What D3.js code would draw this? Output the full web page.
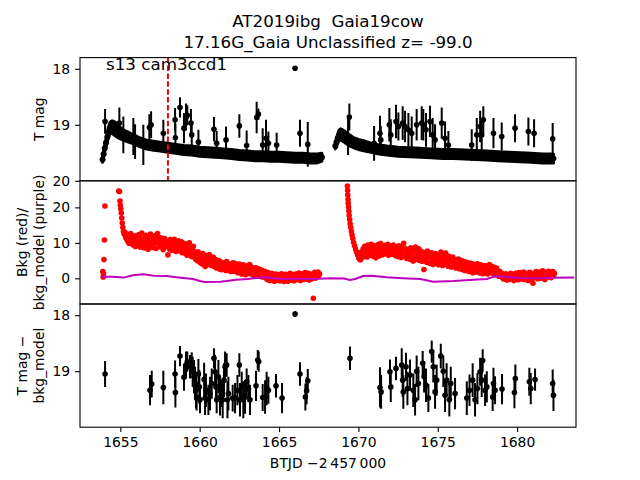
<!DOCTYPE html>
<html><head><meta charset="utf-8">
<script src="https://cdn.jsdelivr.net/npm/d3@7"></script>
<style>body{margin:0;background:#fff}text{font-family:"DejaVu Sans",sans-serif;white-space:pre}</style>
</head><body><div id="chart"></div>
<script>
// ---------- DATA ----------
const titleLines = ["AT2019ibg  Gaia19cow", "17.16G_Gaia Unclassified z= -99.0"];
const sectorLabel = "s13 cam3ccd1";
const xTicks = [1655, 1660, 1665, 1670, 1675, 1680];
const magTicks = [18, 19, 20];
const bkgTicks = [0, 10, 20];
const markerLine = 1658.0;

// main light-curve band: [BTJD, mag, err]
const band1 = [[1653.88,19.62,0.05],[1653.95,19.52,0.05],[1654.02,19.42,0.06],[1654.10,19.32,0.07],[1654.18,19.22,0.08],[1654.26,19.13,0.09],[1654.35,19.06,0.10],[1654.45,19.04,0.11],[1654.55,19.05,0.12],[1654.70,19.08,0.12],[1654.85,19.12,0.11],[1655.00,19.15,0.10],[1655.25,19.19,0.09],[1655.50,19.22,0.09],[1655.75,19.25,0.08],[1656.00,19.28,0.08],[1656.30,19.32,0.08],[1656.60,19.35,0.08],[1657.00,19.37,0.08],[1657.50,19.39,0.08],[1658.00,19.41,0.08],[1658.50,19.43,0.08],[1659.00,19.45,0.08],[1659.50,19.46,0.08],[1660.00,19.48,0.08],[1660.50,19.49,0.08],[1661.00,19.50,0.08],[1661.50,19.51,0.08],[1662.00,19.52,0.08],[1662.50,19.54,0.08],[1663.00,19.55,0.08],[1663.50,19.56,0.08],[1664.00,19.56,0.08],[1664.50,19.57,0.08],[1665.00,19.57,0.08],[1665.50,19.58,0.08],[1666.00,19.59,0.08],[1666.50,19.59,0.08],[1667.00,19.60,0.08],[1667.40,19.60,0.08],[1667.70,19.58,0.07]];
const band2 = [[1668.55,19.38,0.05],[1668.62,19.31,0.06],[1668.70,19.24,0.08],[1668.78,19.19,0.09],[1668.88,19.17,0.10],[1669.00,19.19,0.10],[1669.20,19.23,0.10],[1669.40,19.27,0.10],[1669.70,19.32,0.09],[1670.00,19.35,0.09],[1670.40,19.38,0.09],[1670.80,19.41,0.08],[1671.30,19.44,0.08],[1671.80,19.46,0.08],[1672.50,19.48,0.08],[1673.20,19.49,0.08],[1673.90,19.50,0.08],[1674.60,19.51,0.08],[1675.30,19.52,0.08],[1676.00,19.52,0.08],[1676.70,19.53,0.08],[1677.40,19.54,0.08],[1678.10,19.55,0.08],[1678.80,19.56,0.08],[1679.50,19.57,0.08],[1680.20,19.58,0.08],[1680.90,19.59,0.08],[1681.60,19.60,0.08],[1682.29,19.60,0.08]];

// sparse detections in top panel: [BTJD, mag, err]
const topPts = [[1654.04,18.94,0.22],[1654.94,18.97,0.28],[1655.19,19.18,0.33],[1655.82,19.21,0.33],[1655.93,19.30,0.31],[1656.45,19.36,0.36],[1656.83,19.05,0.24],[1656.94,19.00,0.24],[1657.71,19.15,0.24],[1658.45,18.91,0.21],[1658.47,19.23,0.25],[1658.76,18.69,0.18],[1659.01,19.06,0.27],[1659.14,18.86,0.24],[1659.22,18.83,0.18],[1659.45,18.97,0.25],[1659.50,19.18,0.24],[1659.92,19.31,0.22],[1660.90,19.08,0.22],[1661.07,19.33,0.22],[1661.66,19.27,0.24],[1662.50,19.02,0.21],[1662.96,19.37,0.27],[1663.59,18.87,0.28],[1663.70,18.81,0.10],[1663.97,19.36,0.30],[1664.18,19.24,0.33],[1664.33,19.33,0.21],[1664.85,19.36,0.22],[1666.01,17.99,0.04],[1666.32,19.15,0.24],[1666.81,19.35,0.40],
[1669.35,19.21,0.33],[1669.43,18.86,0.24],[1670.99,19.33,0.31],[1671.36,19.15,0.31],[1671.41,19.27,0.25],[1671.95,19.00,0.30],[1672.04,19.18,0.28],[1672.37,18.94,0.30],[1672.52,19.03,0.25],[1672.79,18.97,0.30],[1672.94,19.03,0.28],[1673.15,19.09,0.30],[1673.36,19.15,0.30],[1673.67,19.00,0.28],[1673.99,18.97,0.30],[1674.09,19.00,0.28],[1674.26,19.09,0.30],[1674.51,18.94,0.28],[1674.68,19.18,0.30],[1674.83,19.27,0.28],[1675.25,18.97,0.28],[1675.46,19.24,0.30],[1675.67,19.36,0.25],[1677.14,19.36,0.28],[1677.46,19.18,0.30],[1677.67,19.03,0.28],[1677.77,19.18,0.30],[1677.87,18.91,0.24],[1678.51,19.15,0.27],[1679.03,19.21,0.25],[1679.87,19.06,0.25],[1680.71,19.12,0.25],[1681.07,19.15,0.25],[1682.24,19.25,0.28]];

// background (red): [BTJD, counts]
const bkg = [[1653.90,1.9],[1653.92,0.4],[1653.94,1.3],[1653.97,5.3],[1654.00,10.8],[1654.03,20.4],[1654.90,24.6],[1654.95,24.5],[1654.98,21.8],[1655.00,20.6],[1655.03,19.6],[1655.06,18.4],[1655.09,17.0],[1655.12,15.6],[1655.16,14.3],[1655.20,13.2],[1655.25,12.4],[1655.30,13.0],[1655.35,11.4],[1655.40,12.2],[1655.45,10.6],[1655.50,11.8],[1655.55,9.9],[1655.60,11.1],[1655.65,12.6],[1655.70,10.3],[1655.75,11.5],[1655.80,9.4],[1655.85,10.8],[1655.90,12.0],[1655.95,9.0],[1656.00,10.5],[1656.05,11.6],[1656.10,9.6],[1656.15,12.3],[1656.20,10.0],[1656.25,8.8],[1656.30,11.2],[1656.35,12.8],[1656.40,9.8],[1656.45,11.0],[1656.50,8.6],[1656.55,10.4],[1656.60,12.1],[1656.65,9.2],[1656.70,10.9],[1656.75,8.2],[1656.80,11.7],[1656.85,9.7],[1656.90,12.5],[1656.95,10.2],[1657.00,8.7],[1657.05,11.3],[1657.10,9.5],[1657.15,12.0],[1657.20,10.6],[1657.25,8.4],[1657.30,11.8],[1657.35,12.6],[1657.40,9.9],[1657.45,10.8],[1657.50,8.9],[1657.55,11.4],[1657.60,9.3],[1657.65,10.5],[1657.70,8.1],[1657.75,10.0],[1657.80,11.2],[1657.85,9.0],[1657.90,10.4],[1658.00,6.6],[1658.05,9.6],[1658.10,8.3],[1658.15,10.9],[1658.20,9.1],[1658.25,7.9],[1658.30,10.2],[1658.35,8.6],[1658.40,11.0],[1658.45,9.4],[1658.50,7.6],[1658.55,10.0],[1658.60,8.8],[1658.65,10.6],[1658.70,7.8],[1658.75,9.5],[1658.80,8.4],[1658.85,10.3],[1658.90,7.2],[1658.95,9.1],[1659.00,8.0],[1659.05,9.8],[1659.10,7.0],[1659.15,8.7],[1659.20,6.5],[1659.25,9.3],[1659.30,7.6],[1659.35,10.0],[1659.40,6.9],[1659.45,8.4],[1659.50,6.1],[1659.55,7.8],[1659.60,9.0],[1659.65,6.6],[1659.70,7.4],[1659.75,5.4],[1659.80,6.8],[1659.85,5.0],[1659.90,7.5],[1659.95,5.8],[1660.00,4.6],[1660.05,6.3],[1660.10,4.2],[1660.15,5.5],[1660.20,7.0],[1660.25,3.8],[1660.30,5.2],[1660.35,3.3],[1660.40,6.4],[1660.45,4.8],[1660.50,5.9],[1660.55,3.9],[1660.60,6.7],[1660.65,4.5],[1660.70,5.6],[1660.75,3.6],[1660.80,4.9],[1660.85,6.0],[1660.90,3.4],[1660.95,4.4],[1661.00,5.3],[1661.05,2.9],[1661.10,4.1],[1661.15,3.2],[1661.20,5.0],[1661.25,2.6],[1661.30,3.8],[1661.35,4.6],[1661.40,2.4],[1661.45,3.5],[1661.50,4.3],[1661.55,2.8],[1661.60,3.9],[1661.65,2.2],[1661.70,4.7],[1661.75,3.1],[1661.80,2.5],[1661.85,4.0],[1661.90,3.3],[1661.95,1.9],[1662.00,3.6],[1662.05,2.7],[1662.10,4.4],[1662.15,2.0],[1662.20,3.0],[1662.25,4.2],[1662.30,2.3],[1662.35,3.4],[1662.40,1.6],[1662.45,2.9],[1662.50,4.0],[1662.55,2.1],[1662.60,3.3],[1662.65,1.2],[1662.70,2.6],[1662.75,3.8],[1662.80,1.8],[1662.85,2.9],[1662.90,1.0],[1662.95,2.4],[1663.00,3.5],[1663.05,1.5],[1663.10,2.7],[1663.15,3.9],[1663.20,1.3],[1663.25,2.2],[1663.30,3.1],[1663.35,1.7],[1663.40,0.8],[1663.45,2.5],[1663.50,1.4],[1663.55,3.0],[1663.60,0.9],[1663.65,2.0],[1663.70,1.1],[1663.75,2.6],[1663.80,0.6],[1663.85,1.7],[1663.90,2.3],[1663.95,0.4],[1664.00,1.5],[1664.05,0.8],[1664.10,2.0],[1664.15,0.2],[1664.20,1.2],[1664.25,-0.3],[1664.30,1.6],[1664.35,0.5],[1664.40,-0.6],[1664.45,1.0],[1664.50,0.1],[1664.55,1.4],[1664.60,-0.4],[1664.65,0.7],[1664.70,-0.8],[1664.75,0.3],[1664.80,1.2],[1664.85,-0.5],[1664.90,0.6],[1664.95,-0.2],[1665.00,1.0],[1665.05,-0.7],[1665.10,0.4],[1665.15,1.3],[1665.20,-0.3],[1665.25,0.8],[1665.30,-0.9],[1665.35,0.2],[1665.40,1.1],[1665.45,-0.4],[1665.50,0.5],[1665.55,-0.8],[1665.60,0.9],[1665.65,0.0],[1665.70,1.4],[1665.75,-0.5],[1665.80,0.6],[1665.85,-0.2],[1665.90,1.0],[1665.95,-0.7],[1666.00,0.3],[1666.05,1.2],[1666.10,-0.4],[1666.15,0.7],[1666.20,-0.1],[1666.25,1.5],[1666.30,0.2],[1666.35,-0.6],[1666.40,0.9],[1666.45,0.0],[1666.50,1.3],[1666.55,-0.3],[1666.60,0.6],[1666.65,1.6],[1666.70,-0.2],[1666.75,0.8],[1666.80,0.1],[1666.85,1.4],[1666.90,-0.5],[1666.95,0.5],[1667.00,1.1],[1667.05,-0.1],[1667.10,0.9],[1667.16,-5.6],[1667.20,0.3],[1667.25,1.7],[1667.30,0.0],[1667.35,1.0],[1667.40,0.4],[1667.45,1.8],[1667.50,0.7],[1667.55,1.3],
[1669.31,26.0],[1669.32,24.8],[1669.33,23.5],[1669.35,22.2],[1669.36,21.2],[1669.38,20.1],[1669.40,18.9],[1669.42,17.7],[1669.45,16.6],[1669.48,15.4],[1669.52,14.3],[1669.56,13.2],[1669.60,12.2],[1669.65,11.2],[1669.70,10.1],[1669.76,9.2],[1669.82,8.3],[1669.88,7.4],[1669.95,6.6],[1670.02,5.7],[1670.08,6.8],[1670.12,5.2],[1670.18,7.4],[1670.24,5.9],[1670.30,8.3],[1670.35,6.4],[1670.40,9.0],[1670.45,7.1],[1670.50,8.6],[1670.55,6.0],[1670.60,9.4],[1670.65,7.7],[1670.70,8.9],[1670.75,6.5],[1670.80,9.6],[1670.85,7.3],[1670.90,8.4],[1670.95,6.2],[1671.00,9.2],[1671.05,7.8],[1671.10,5.8],[1671.15,8.7],[1671.20,7.0],[1671.25,9.5],[1671.30,6.3],[1671.35,8.1],[1671.40,9.8],[1671.45,7.4],[1671.50,6.6],[1671.55,8.8],[1671.60,7.5],[1671.65,9.3],[1671.70,6.9],[1671.75,8.3],[1671.80,7.7],[1671.85,9.6],[1671.90,6.5],[1671.95,8.6],[1672.00,7.2],[1672.05,9.1],[1672.10,6.8],[1672.15,8.0],[1672.20,9.4],[1672.25,7.0],[1672.30,8.5],[1672.35,6.4],[1672.40,8.9],[1672.45,7.6],[1672.50,6.1],[1672.55,9.2],[1672.60,7.3],[1672.65,8.2],[1672.70,5.9],[1672.75,8.7],[1672.80,7.0],[1672.85,9.9],[1672.90,6.6],[1672.95,8.4],[1673.00,7.4],[1673.05,5.6],[1673.10,8.1],[1673.15,6.9],[1673.20,7.8],[1673.25,5.4],[1673.30,8.6],[1673.35,6.3],[1673.40,7.5],[1673.45,4.9],[1673.50,7.9],[1673.55,6.0],[1673.60,8.8],[1673.65,5.3],[1673.70,7.1],[1673.75,6.4],[1673.80,8.3],[1673.85,5.1],[1673.90,6.7],[1673.95,7.6],[1674.00,4.8],[1674.05,6.2],[1674.13,2.5],[1674.15,7.3],[1674.20,5.5],[1674.25,6.8],[1674.30,4.5],[1674.35,7.7],[1674.40,5.8],[1674.45,6.5],[1674.50,4.2],[1674.55,6.0],[1674.60,7.2],[1674.65,5.0],[1674.70,3.9],[1674.75,6.6],[1674.80,5.3],[1674.85,7.0],[1674.90,4.4],[1674.95,5.7],[1675.00,6.3],[1675.05,3.8],[1675.10,5.9],[1675.15,4.7],[1675.20,7.4],[1675.25,5.1],[1675.30,3.6],[1675.35,6.1],[1675.40,4.6],[1675.45,5.5],[1675.50,7.1],[1675.55,4.0],[1675.60,5.6],[1675.65,3.4],[1675.70,6.2],[1675.75,4.8],[1675.80,5.4],[1675.85,3.2],[1675.90,4.9],[1675.95,6.0],[1676.00,3.7],[1676.05,4.4],[1676.10,5.2],[1676.15,2.9],[1676.20,4.6],[1676.25,3.5],[1676.30,5.4],[1676.35,2.7],[1676.40,4.1],[1676.45,3.3],[1676.50,5.0],[1676.55,2.5],[1676.60,3.9],[1676.65,4.7],[1676.70,2.2],[1676.75,3.6],[1676.80,4.5],[1676.85,2.8],[1676.90,3.8],[1676.95,1.9],[1677.00,3.4],[1677.05,4.3],[1677.10,2.4],[1677.15,3.1],[1677.20,1.6],[1677.25,4.0],[1677.30,2.6],[1677.35,3.5],[1677.40,1.8],[1677.45,2.9],[1677.50,4.1],[1677.55,2.1],[1677.60,3.2],[1677.65,1.5],[1677.70,3.8],[1677.75,2.3],[1677.80,3.0],[1677.85,1.3],[1677.90,2.7],[1677.95,3.6],[1678.00,1.9],[1678.05,2.5],[1678.10,3.3],[1678.15,1.2],[1678.20,2.8],[1678.25,3.9],[1678.30,1.7],[1678.35,2.4],[1678.40,3.4],[1678.45,1.4],[1678.50,2.6],[1678.55,3.1],[1678.60,1.0],[1678.65,2.2],[1678.70,2.9],[1678.75,1.1],[1678.80,1.8],[1678.85,0.6],[1678.90,2.0],[1678.95,0.9],[1679.00,1.5],[1679.05,0.3],[1679.10,1.2],[1679.15,-0.2],[1679.20,0.8],[1679.25,0.1],[1679.30,1.3],[1679.35,-0.5],[1679.40,0.5],[1679.45,1.0],[1679.50,-0.3],[1679.55,0.6],[1679.60,1.4],[1679.65,-0.1],[1679.70,0.4],[1679.75,1.1],[1679.80,-0.6],[1679.85,0.7],[1679.90,0.0],[1679.95,1.5],[1680.00,0.2],[1680.05,-0.4],[1680.10,0.9],[1680.15,1.6],[1680.20,0.3],[1680.25,-0.2],[1680.30,1.2],[1680.35,0.6],[1680.40,1.8],[1680.45,-0.3],[1680.50,0.8],[1680.55,1.4],[1680.60,0.1],[1680.65,1.0],[1680.70,-0.6],[1680.75,0.5],[1680.80,1.7],[1680.85,0.2],[1680.90,1.1],[1680.95,-0.2],[1681.00,-1.4],[1681.05,0.9],[1681.10,1.5],[1681.15,0.4],[1681.20,1.9],[1681.25,0.7],[1681.30,-0.1],[1681.35,1.3],[1681.40,0.5],[1681.45,1.8],[1681.50,0.0],[1681.55,1.0],[1681.60,2.1],[1681.65,0.6],[1681.70,1.4],[1681.75,-0.3],[1681.80,0.9],[1681.85,1.7],[1681.90,0.3],[1681.95,1.2],[1682.00,2.0],[1682.05,0.7],[1682.10,1.5],[1682.15,0.2],[1682.20,1.1],[1682.25,1.9],[1682.30,0.8],[1682.35,1.4]];

// background model (purple): [BTJD, counts]
const bkgModel = [[1653.83,0.46],[1654.50,0.46],[1655.20,0.20],[1655.80,0.84],[1656.45,1.12],[1657.10,0.75],[1657.90,0.65],[1658.80,0.18],[1659.60,-0.20],[1660.00,-0.76],[1660.30,-1.04],[1661.30,-0.95],[1661.70,-0.76],[1662.30,-0.40],[1663.00,-0.20],[1663.80,0.18],[1664.20,0.27],[1664.60,0.00],[1665.10,-0.20],[1666.10,-0.15],[1667.20,-0.20],[1668.20,0.00],[1669.10,-0.05],[1669.45,-0.48],[1669.80,-0.20],[1670.30,0.65],[1670.80,0.70],[1671.80,0.27],[1672.80,0.05],[1673.90,-0.20],[1674.50,-0.76],[1674.70,-0.95],[1676.00,-0.76],[1677.00,-0.48],[1678.10,-0.20],[1678.40,0.27],[1678.60,0.55],[1679.40,0.36],[1680.20,0.10],[1681.20,0.00],[1682.30,0.18],[1683.60,0.20]];

// T mag - bkg_model (bottom panel): [BTJD, mag, err]
const diffPts = [[1654.04,19.05,0.23],[1656.87,19.34,0.27],[1656.98,19.23,0.24],[1657.71,19.29,0.30],[1658.45,19.05,0.24],[1658.47,19.38,0.27],[1658.76,18.73,0.18],[1659.01,19.11,0.24],[1659.14,18.89,0.24],[1659.22,18.83,0.18],[1659.39,18.92,0.21],[1659.50,18.86,0.20],[1659.56,19.01,0.27],[1659.64,19.10,0.30],[1659.71,19.22,0.30],[1659.77,19.34,0.33],[1659.81,19.46,0.24],[1659.92,19.05,0.27],[1659.98,19.28,0.30],[1660.02,19.51,0.24],[1660.28,19.15,0.30],[1660.34,19.48,0.30],[1660.40,19.34,0.30],[1660.55,19.51,0.27],[1660.65,19.40,0.30],[1660.76,19.22,0.27],[1660.90,18.77,0.18],[1660.97,19.01,0.30],[1661.03,19.28,0.27],[1661.07,19.51,0.24],[1661.18,19.10,0.30],[1661.28,19.46,0.33],[1661.39,19.40,0.24],[1661.45,19.51,0.33],[1661.53,19.16,0.30],[1661.60,18.92,0.27],[1661.70,18.89,0.21],[1661.75,19.51,0.33],[1661.81,19.40,0.30],[1662.08,19.48,0.24],[1662.23,19.48,0.27],[1662.38,19.34,0.27],[1662.50,18.89,0.21],[1662.54,19.51,0.30],[1662.65,19.25,0.24],[1662.75,19.51,0.33],[1662.86,19.46,0.30],[1662.96,19.19,0.24],[1663.07,19.31,0.24],[1663.17,19.51,0.27],[1663.55,19.26,0.27],[1663.66,18.80,0.18],[1663.72,18.83,0.18],[1663.97,19.47,0.24],[1664.12,19.46,0.30],[1664.22,19.31,0.30],[1664.33,19.34,0.24],[1664.81,19.26,0.21],[1665.19,19.48,0.27],[1666.01,17.98,0.05],[1666.32,19.05,0.21],[1666.66,19.46,0.24],[1666.74,19.35,0.24],[1666.81,19.17,0.21],
[1669.47,18.77,0.21],[1671.36,19.29,0.36],[1671.43,19.37,0.30],[1671.99,19.01,0.22],[1672.04,19.28,0.27],[1672.37,18.95,0.21],[1672.73,18.89,0.30],[1672.79,19.16,0.30],[1672.83,19.37,0.30],[1673.00,18.92,0.25],[1673.09,19.31,0.30],[1673.25,19.07,0.28],[1673.46,19.34,0.30],[1673.57,19.51,0.28],[1673.67,19.00,0.28],[1673.78,19.22,0.30],[1674.05,18.86,0.22],[1674.14,19.10,0.28],[1674.26,19.25,0.30],[1674.41,19.48,0.25],[1674.62,18.65,0.20],[1674.72,18.92,0.28],[1674.83,19.37,0.30],[1674.93,19.16,0.28],[1675.19,18.73,0.22],[1675.35,19.00,0.28],[1675.46,19.43,0.30],[1675.56,19.16,0.30],[1675.73,19.51,0.30],[1675.82,19.22,0.30],[1676.09,19.40,0.28],[1676.83,19.48,0.30],[1677.00,19.34,0.28],[1677.20,19.16,0.30],[1677.35,19.51,0.30],[1677.50,19.31,0.28],[1677.67,19.01,0.25],[1677.77,19.16,0.30],[1677.83,18.81,0.20],[1677.98,19.34,0.28],[1678.09,19.28,0.28],[1678.46,19.46,0.25],[1678.51,19.22,0.28],[1678.61,19.34,0.25],[1679.05,19.32,0.27],[1679.83,19.38,0.28],[1679.89,19.13,0.25],[1680.77,19.19,0.25],[1680.86,19.31,0.28],[1681.13,19.15,0.20],[1682.24,19.22,0.25],[1682.29,19.43,0.28]];

// ---------- DRAW ----------
const W = 640, H = 480;
const L = 80, R = 576;
const P = [[57.6,180.8],[180.8,304],[304,427.2]];
const svg = d3.select("#chart").append("svg").attr("width", W).attr("height", H)
  .style("background", "#fff");

const x = d3.scaleLinear().domain([1652.46, 1683.71]).range([L, R]);
const yTop = d3.scaleLinear().domain([17.8, 20]).range([P[0][0], P[0][1]]);
const yMid = d3.scaleLinear().domain([-7.24, 27.5]).range([P[1][1], P[1][0]]);
const yBot = d3.scaleLinear().domain([17.8, 20]).range([P[2][0], P[2][1]]);

const defs = svg.append("defs");
P.forEach((p, i) => {
  defs.append("clipPath").attr("id", "clip" + i).append("rect")
    .attr("x", L).attr("y", p[0]).attr("width", R - L).attr("height", p[1] - p[0]);
});
const g = P.map((p, i) => svg.append("g").attr("clip-path", `url(#clip${i})`));

// ---- top panel: band
const area = d3.area().x(d => x(d[0])).y0(d => yTop(d[1] + d[2])).y1(d => yTop(d[1] - d[2]));
[band1, band2].forEach(b => {
  g[0].append("path").datum(b).attr("d", area).attr("fill", "#000")
    .attr("stroke", "#000").attr("stroke-width", 3).attr("stroke-linejoin", "round");
  g[0].selectAll(null).data(b).enter().append("circle")
    .attr("cx", d => x(d[0])).attr("cy", d => yTop(d[1])).attr("r", 3).attr("fill", "#000");
});
function errPts(sel, data, ys) {
  sel.selectAll(null).data(data).enter().append("line")
    .attr("x1", d => x(d[0])).attr("x2", d => x(d[0]))
    .attr("y1", d => ys(d[1] - d[2])).attr("y2", d => ys(d[1] + d[2]))
    .attr("stroke", "#000").attr("stroke-width", 2);
  sel.selectAll(null).data(data).enter().append("circle")
    .attr("cx", d => x(d[0])).attr("cy", d => ys(d[1])).attr("r", 2.8).attr("fill", "#000");
}
errPts(g[0], topPts, yTop);
g[0].append("line").attr("x1", x(markerLine)).attr("x2", x(markerLine))
  .attr("y1", P[0][0]).attr("y2", P[0][1]).attr("stroke", "red").attr("stroke-width", 2)
  .attr("stroke-dasharray", "5.5,2.4");

// ---- middle panel
g[1].selectAll(null).data(bkg).enter().append("circle")
  .attr("cx", d => x(d[0])).attr("cy", d => yMid(d[1])).attr("r", 2.8).attr("fill", "#ff0000");
g[1].append("path").datum(bkgModel)
  .attr("d", d3.line().x(d => x(d[0])).y(d => yMid(d[1])))
  .attr("fill", "none").attr("stroke", "#bf00bf").attr("stroke-width", 2);

// ---- bottom panel
errPts(g[2], diffPts, yBot);

// ---- axes & frames
const tickFont = "13.9px";
function styleAxis(a) {
  a.select(".domain").remove();
  a.selectAll(".tick line").attr("stroke", "#000").attr("stroke-width", 1.1);
  a.selectAll(".tick text").attr("fill", "#000").style("font-size", tickFont)
    .style("font-family", "'DejaVu Sans', sans-serif");
}
[[yTop, magTicks, 0], [yMid, bkgTicks, 1], [yBot, [18, 19], 2]].forEach(([s, t, i]) => {
  const a = svg.append("g").attr("transform", `translate(${L},0)`)
    .call(d3.axisLeft(s).tickValues(t).tickSize(4.9).tickPadding(4.9).tickFormat(d3.format("d")));
  styleAxis(a);
});
const ax = svg.append("g").attr("transform", `translate(0,${P[2][1]})`)
  .call(d3.axisBottom(x).tickValues(xTicks).tickSize(4.9).tickPadding(4.9).tickFormat(d3.format("d")));
styleAxis(ax);
P.forEach(p => {
  svg.append("rect").attr("x", L).attr("y", p[0]).attr("width", R - L).attr("height", p[1] - p[0])
    .attr("fill", "none").attr("stroke", "#000").attr("stroke-width", 1.1);
});

// ---- texts
svg.append("text").attr("x", 106).attr("y", 70).text(sectorLabel)
  .style("font-size", "16.7px").attr("fill", "#000");
titleLines.forEach((t, i) => {
  svg.append("text").attr("x", (L + R) / 2).attr("y", 27 + i * 21.3).attr("text-anchor", "middle")
    .attr("xml:space", "preserve")
    .style("font-size", "16.7px").attr("fill", "#000").text(t);
});
svg.append("text").attr("x", (L + R) / 2).attr("y", 468).attr("text-anchor", "middle")
  .style("font-size", "13.9px").attr("fill", "#000").text("BTJD \u22122\u2009457\u2009000");
function ylab(lines, yc) {
  const n = lines.length;
  lines.forEach((t, i) => {
    const xb = 44 - (n - 1 - i) * 16.7;
    svg.append("text").attr("transform", `translate(${xb},${yc}) rotate(-90)`)
      .attr("text-anchor", "middle").style("font-size", "13.9px").attr("fill", "#000").text(t);
  });
}
ylab(["T mag"], (P[0][0] + P[0][1]) / 2);
ylab(["Bkg (red)/", "bkg_model (purple)"], (P[1][0] + P[1][1]) / 2);
ylab(["T mag \u2212", "bkg_model"], (P[2][0] + P[2][1]) / 2);
</script></body></html>
